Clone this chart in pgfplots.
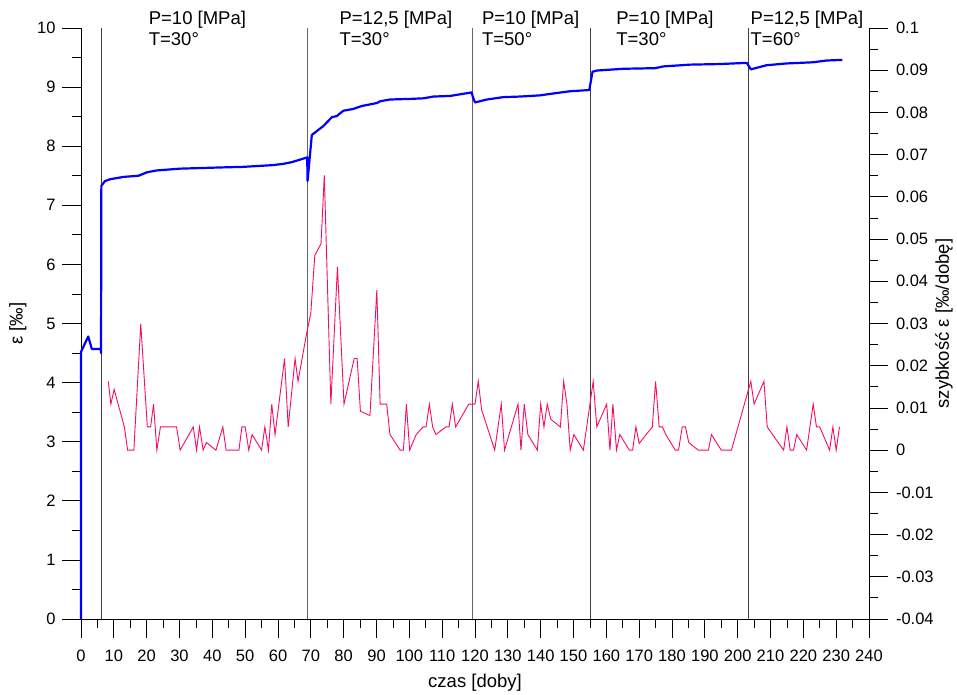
\documentclass[border=0pt]{standalone}
\usepackage{pgfplots}
\pgfplotsset{compat=1.18}
\usepackage{fontspec}
\setmainfont{Liberation Sans}
\definecolor{pinkline}{RGB}{250,10,100}
\definecolor{blueline}{RGB}{0,0,255}
\tikzset{annot/.style={anchor=base west, inner sep=0pt, font=\fontsize{18.5}{21}\selectfont}}
\begin{document}
\begin{tikzpicture}
\useasboundingbox (-81pt,-76pt) rectangle (876pt,619pt);
\pgfplotsset{
  common/.style={
    width=788pt, height=591pt, scale only axis,
    at={(0,0)}, anchor=south west,
    xmin=0, xmax=240,
    tick align=outside,
    major tick length=19pt, minor tick length=9pt,
    minor tick num=1,
    tick style={black, line width=0.8pt},
    axis line style={black, line width=0.8pt},
    /pgf/number format/assume math mode=true,
    tick label style={font=\fontsize{16.5}{18}\selectfont},
  }
}
\begin{axis}[common,
  axis x line*=bottom, axis y line*=left,
  ymin=0, ymax=10,
  xtick={0,10,...,240}, ytick={0,1,...,10},
  xticklabel style={yshift=-8pt},
  yticklabel style={xshift=-3pt},
  clip=false,
  xlabel={czas [doby]},
  ylabel={ε [‰]},
  every axis x label/.style={at={(axis description cs:0.5,-0.1083)}, anchor=center, font=\fontsize{18.5}{21}\selectfont},
  every axis y label/.style={at={(axis description cs:-0.080,0.5)}, anchor=center, rotate=90, font=\fontsize{18.5}{21}\selectfont},
]
% separators
\addplot[black!75, line width=0.8pt] coordinates {(6.1,0) (6.1,10)};
\addplot[black!60, line width=0.8pt] coordinates {(69.1,0) (69.1,10)};
\addplot[black!60, line width=0.8pt] coordinates {(119.1,0) (119.1,10)};
\addplot[black!75, line width=0.8pt] coordinates {(155.0,0) (155.0,10)};
\addplot[black!75, line width=0.8pt] coordinates {(203.2,0) (203.2,10)};
% strain
\addplot[blueline, line width=2.2pt, line join=round] coordinates {
(0,0) (0,4.52) (2.2,4.78) (3.3,4.57) (6.0,4.57) (6.1,4.5) (6.2,7.33) (7.3,7.41) (8.8,7.44) (12.9,7.48) (17.5,7.50) (20.2,7.56) (23.1,7.59) (30.2,7.62) (42.3,7.64) (49.3,7.65) (58.5,7.68) (61.5,7.70) (64.2,7.73) (68.9,7.81) (69.0,7.41) (70.3,8.19) (73.8,8.34) (76.4,8.49) (77.9,8.51) (79.9,8.60) (82.9,8.63) (85.5,8.68) (90.1,8.73) (91.1,8.76) (94.1,8.79) (100.2,8.80) (104.3,8.81) (107.3,8.84) (112.4,8.85) (119.0,8.91) (119.3,8.84) (120.0,8.74) (123.6,8.79) (128.6,8.83) (133.7,8.84) (139.8,8.86) (144.9,8.90) (149.0,8.93) (154.8,8.95) (155.8,9.26) (157.1,9.28) (165.2,9.31) (174.8,9.32) (177.4,9.35) (185.5,9.38) (194.6,9.39) (202.8,9.41) (204,9.30) (208.8,9.37) (214.9,9.40) (223,9.42) (227.1,9.45) (231.9,9.46)
};
\draw[black, line width=0.8pt] (axis cs:0,0) -- ++(-19pt,0);
\node[annot, yshift=3pt] at (axis cs:20.6,10) {P=10 [MPa]};
\node[annot, yshift=-17.7pt] at (axis cs:20.6,10) {T=30°};
\node[annot, yshift=3pt] at (axis cs:78.7,10) {P=12,5 [MPa]};
\node[annot, yshift=-17.7pt] at (axis cs:78.7,10) {T=30°};
\node[annot, yshift=3pt] at (axis cs:122.1,10) {P=10 [MPa]};
\node[annot, yshift=-17.7pt] at (axis cs:122.1,10) {T=50°};
\node[annot, yshift=3pt] at (axis cs:163.0,10) {P=10 [MPa]};
\node[annot, yshift=-17.7pt] at (axis cs:163.0,10) {T=30°};
\node[annot, yshift=3pt] at (axis cs:203.9,10) {P=12,5 [MPa]};
\node[annot, yshift=-17.7pt] at (axis cs:203.9,10) {T=60°};
\end{axis}
\begin{axis}[common,
  axis x line=none, axis y line*=right,
  ymin=-0.04, ymax=0.1,
  ytick={-0.04,-0.03,...,0.1},
  yticklabel style={/pgf/number format/.cd, fixed, precision=2, /tikz/.cd, xshift=4.5pt},
  ylabel={szybkość ε [‰/dobę]},
  every axis y label/.style={at={(axis description cs:1.0952,0.5)}, anchor=center, rotate=90, font=\fontsize{18.5}{21}\selectfont},
]
\addplot[pinkline, line width=0.9pt] coordinates {
(8.3,0.0163) (9.1,0.0109) (10.1,0.0144) (13.2,0.0055) (14.2,0) (16.1,0) (18.2,0.0299) (20.2,0.0055) (21.2,0.0055) (22.1,0.0109) (23.1,0) (24.2,0.0055) (29.1,0.0055) (30.2,0) (34.2,0.0055) (35.2,0) (36.1,0.0055) (37.2,0) (38.2,0.0018) (41.1,0) (43.2,0.0055) (44.2,0) (48.1,0) (49.0,0.0055) (50.0,0.0055) (51.1,0) (52.1,0.0037) (55.0,0) (56.0,0.0055) (57.1,0) (58.1,0.0109) (59.1,0.0037) (62.0,0.0217) (63.1,0.0055) (65.2,0.0217) (66.1,0.0163) (68.7,0.0276) (70.0,0.0325) (71.2,0.0461) (73.1,0.0489) (74.1,0.0651) (76.1,0.0109) (78.1,0.0434) (80.1,0.0109) (83.2,0.0217) (84.1,0.0217) (85.1,0.0092) (88.0,0.0082) (90.1,0.0379) (91.1,0.0109) (93.1,0.0109) (94.1,0.0037) (97.2,0) (98.2,0) (99.1,0.0109) (100.1,0) (102.1,0.0037) (104.2,0.0055) (105.1,0.0055) (106.1,0.0109) (107.1,0.0055) (108.1,0.0037) (111.1,0.0055) (112.1,0.0055) (113.1,0.0109) (114.1,0.0055) (118.1,0.0109) (120.0,0.0109) (121.0,0.0163) (122.0,0.0096) (126.0,0) (128.0,0.0109) (129.0,0) (133.1,0.0109) (134.0,0) (135.0,0.0109) (136.1,0.0037) (139.0,0) (140.0,0.0109) (141.0,0.0055) (142.0,0.0109) (143.1,0.0073) (146.0,0.0055) (147.0,0.0163) (148.0,0.0109) (149.0,0) (150.1,0.0037) (153.0,0) (156.0,0.0163) (157.1,0.0055) (160.1,0.0109) (161.1,0) (162.0,0.0109) (163.1,0) (164.1,0.0037) (167.0,0) (168.0,0) (169.0,0.0055) (170.0,0.0016) (174.0,0.0055) (175.0,0.0163) (176.1,0.0055) (177.1,0.0055) (178.1,0.0037) (181.0,0) (182.0,0) (183.1,0.0055) (184.1,0.0055) (185.1,0.0018) (188.0,0) (191.1,0) (192.0,0.0037) (195.0,0) (198.1,0) (204.0,0.0163) (205.0,0.0109) (208.0,0.0163) (209.0,0.0055) (214.0,0) (215.0,0.0055) (216.0,0) (217.0,0) (218.0,0.0037) (221.0,0) (223.0,0.0109) (224.0,0.0055) (225.0,0.0055) (228.0,0) (229.0,0.0055) (230.0,0) (231.0,0.0055)
};
\end{axis}
\end{tikzpicture}
\end{document}
